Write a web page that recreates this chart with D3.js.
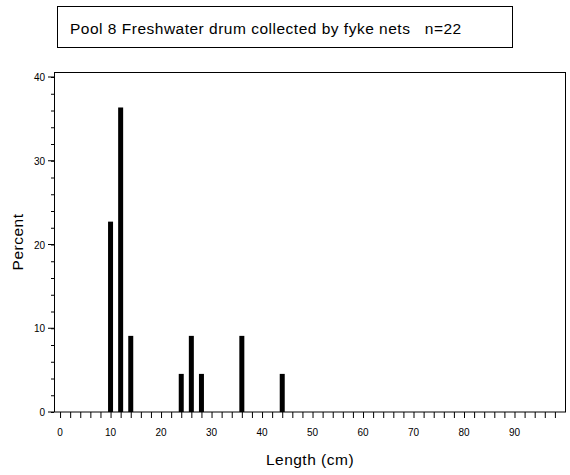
<!DOCTYPE html>
<html><head><meta charset="utf-8">
<script src="https://cdn.jsdelivr.net/npm/d3@7"></script>
<style>body{margin:0;background:#fff}text{font-family:"Liberation Sans",Arial,sans-serif;white-space:pre}</style>
</head><body><div id="viz"></div>
<script>
// datos
var lengths = [10, 12, 14, 24, 26, 28, 36, 44]
var percent = [22.73, 36.36, 9.09, 4.55, 9.09, 4.55, 9.09, 4.55]
var xTicks = [0, 10, 20, 30, 40, 50, 60, 70, 80, 90]
var yTicks = [0, 10, 20, 30, 40]

var svg = d3.select("#viz").append("svg")
    .attr("width", 570).attr("height", 475)

var x = d3.scaleLinear().domain([-1.2, 100.2]).range([54, 566])
var y = d3.scaleLinear().domain([0, 40]).range([412, 77])

// titulo
svg.append("rect").attr("x", 57.5).attr("y", 6.5).attr("width", 455).attr("height", 41)
    .attr("fill", "none").attr("stroke", "#000")
svg.append("text").attr("x", 70).attr("y", 34).attr("font-size", 15.5)
    .attr("letter-spacing", 0.5)
    .text("Pool 8 Freshwater drum collected by fyke nets   n=22")

// marco
svg.append("rect").attr("x", 54.5).attr("y", 72.5).attr("width", 511).attr("height", 339.5)
    .attr("fill", "none").attr("stroke", "#000")

// barras
svg.selectAll(".bar").data(lengths).enter().append("rect")
    .attr("x", function(d) { return x(d) - 2.5 })
    .attr("width", 5)
    .attr("y", function(d, i) { return y(percent[i]) })
    .attr("height", function(d, i) { return 412 - y(percent[i]) })
    .attr("fill", "#000")

// eje x
var gx = svg.append("g").attr("transform", "translate(0,412)")
    .call(d3.axisBottom(x).tickValues(d3.range(0, 100, 2)).tickSize(6).tickFormat(""))
gx.select(".domain").remove()
gx.selectAll("line").attr("stroke", "#000")
svg.selectAll(".xl").data(xTicks).enter().append("text")
    .attr("x", function(d) { return x(d) }).attr("y", 436)
    .attr("text-anchor", "middle").attr("font-size", 10).text(function(d) { return d })

// eje y
var gy = svg.append("g").attr("transform", "translate(54,0)")
    .call(d3.axisLeft(y).tickValues(d3.range(0, 41, 2)).tickSize(3).tickFormat(""))
gy.select(".domain").remove()
gy.selectAll("line").attr("stroke", "#000")
svg.selectAll(".yt").data(yTicks).enter().append("line")
    .attr("x1", 48).attr("x2", 54)
    .attr("y1", function(d) { return y(d) }).attr("y2", function(d) { return y(d) })
    .attr("stroke", "#000")
svg.selectAll(".yl").data(yTicks).enter().append("text")
    .attr("x", 45).attr("y", function(d) { return y(d) + 4 })
    .attr("text-anchor", "end").attr("font-size", 10).text(function(d) { return d })

// titulos de ejes
svg.append("text").attr("x", 310).attr("y", 465).attr("text-anchor", "middle")
    .attr("font-size", 15.5).attr("letter-spacing", 0.5).text("Length (cm)")
svg.append("text").attr("transform", "translate(23,242) rotate(-90)")
    .attr("text-anchor", "middle").attr("font-size", 15.5).attr("letter-spacing", 0.5).text("Percent")
</script></body></html>
